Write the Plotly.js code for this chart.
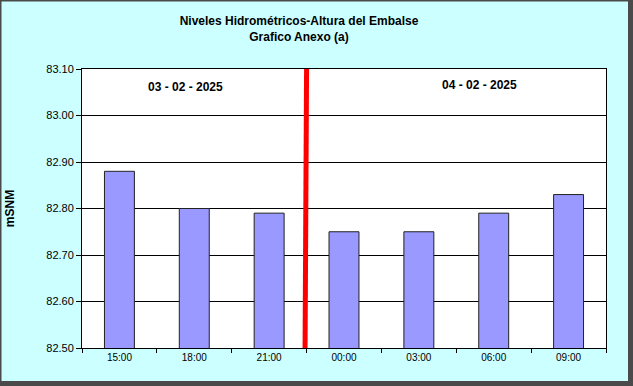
<!DOCTYPE html>
<html>
<head>
<meta charset="utf-8">
<script src="https://cdn.plot.ly/plotly-3.0.1.min.js"></script>
<style>html,body{margin:0;padding:0;background:#fff;}#chart{width:633px;height:386px;}</style>
</head>
<body>
<div id="chart"></div>
<script>
const categories = ["15:00", "18:00", "21:00", "00:00", "03:00", "06:00", "09:00"];
const levels = [82.88, 82.80, 82.79, 82.75, 82.75, 82.79, 82.83];
const yTicks = [82.5, 82.6, 82.7, 82.8, 82.9, 83.0, 83.1];
const dateLabels = ["03 - 02 - 2025", "04 - 02 - 2025"];
const titleLines = ["Niveles Hidrométricos-Altura del Embalse", "Grafico Anexo (a)"];
const yTitle = "mSNM";

const W = 633, H = 386;
const mL = 82, mR = 27, mT = 69, mB = 38;
const pw = W - mL - mR, ph = H - mT - mB;
const px = v => (v - mL) / pw;
const py = v => (H - mB - v) / ph;
const FONT = "Liberation Sans, Arial, sans-serif";
const BORDER = "#4a4a4a";

const trace = {
  type: "bar",
  x: categories,
  y: levels,
  marker: {color: "#9999ff", line: {color: "#222", width: 1}},
  hoverinfo: "x+y"
};

const layout = {
  width: W, height: H,
  margin: {l: mL, r: mR, t: mT, b: mB, pad: 0},
  paper_bgcolor: "#ccffff",
  plot_bgcolor: "#ffffff",
  bargap: 0.6,
  showlegend: false,
  font: {family: FONT, size: 11, color: "#000"},
  title: {
    text: "<b>" + titleLines[0] + "</b><br><b>" + titleLines[1] + "</b>",
    font: {family: FONT, size: 12, color: "#000"},
    xref: "container", x: 299 / W, xanchor: "center",
    yref: "container", y: 1 - 25 / H, yanchor: "top"
  },
  xaxis: {
    type: "category",
    range: [-0.5, categories.length - 0.5],
    showline: true, linecolor: "#000", linewidth: 1, mirror: true,
    ticks: "outside", tickson: "boundaries", ticklen: 4, tickcolor: "#000",
    showgrid: false,
    tickfont: {family: FONT, size: 10, color: "#000"}
  },
  yaxis: {
    range: [82.5, 83.1],
    tickvals: yTicks,
    ticktext: yTicks.map(v => v.toFixed(2)),
    showline: true, linecolor: "#000", linewidth: 1, mirror: true,
    ticks: "outside", ticklen: 5, tickcolor: "#000",
    showgrid: true, gridcolor: "#000", gridwidth: 1,
    zeroline: false,
    tickfont: {family: FONT, size: 11, color: "#000"},
    title: {text: "<b>" + yTitle + "</b>", font: {family: FONT, size: 12, color: "#000"}, standoff: 29}
  },
  shapes: [
    // outer frame: thin left/top, thick right/bottom (shadow)
    {type: "line", xref: "paper", yref: "paper", x0: px(0.75), x1: px(0.75), y0: py(0), y1: py(H),
     line: {color: BORDER, width: 1.5}},
    {type: "line", xref: "paper", yref: "paper", x0: px(0), x1: px(W), y0: py(0.75), y1: py(0.75),
     line: {color: BORDER, width: 1.5}},
    {type: "line", xref: "paper", yref: "paper", x0: px(630.5), x1: px(630.5), y0: py(0), y1: py(H),
     line: {color: BORDER, width: 5}},
    {type: "line", xref: "paper", yref: "paper", x0: px(0), x1: px(W), y0: py(383.5), y1: py(383.5),
     line: {color: BORDER, width: 5}},
    {type: "line", xref: "x", yref: "paper",
     x0: 2.48, x1: 2.5, y0: 0, y1: 1,
     line: {color: "#ff0000", width: 5}}
  ],
  annotations: [
    {xref: "paper", yref: "paper", x: px(185), y: py(87), xanchor: "center", yanchor: "middle",
     text: "<b>" + dateLabels[0] + "</b>",
     showarrow: false, font: {family: FONT, size: 12, color: "#000"}},
    {xref: "paper", yref: "paper", x: px(479), y: py(85), xanchor: "center", yanchor: "middle",
     text: "<b>" + dateLabels[1] + "</b>",
     showarrow: false, font: {family: FONT, size: 12, color: "#000"}}
  ]
};

Plotly.newPlot("chart", [trace], layout, {displayModeBar: false, staticPlot: true});
</script>
</body>
</html>
